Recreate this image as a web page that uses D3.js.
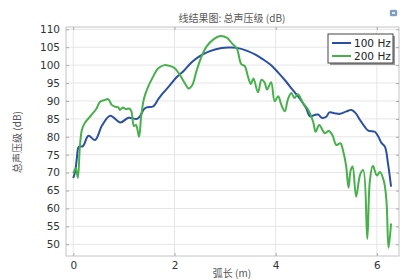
<!DOCTYPE html>
<html>
<head>
<meta charset="utf-8">
<script src="https://cdn.jsdelivr.net/npm/d3@7"></script>
<style>
body { margin: 0; background: #fff; }
svg text { font-family: "DejaVu Sans", sans-serif; }
.cjk { font-family: "Noto Sans CJK SC", sans-serif; }
</style>
</head>
<body>
<script>
// values
var seriesNames = ['100 Hz', '200 Hz']
var xTicks = [0, 2, 4, 6]
var yTicks = [50, 55, 60, 65, 70, 75, 80, 85, 90, 95, 100, 105, 110]

var blueX = [0, 0.04, 0.07, 0.11, 0.19, 0.30, 0.43, 0.57, 0.73, 0.93, 1.09, 1.26, 1.33, 1.39, 1.45, 1.58, 1.68, 1.78, 1.91, 2.04,
  2.17, 2.34, 2.50, 2.70, 2.93, 3.13, 3.30, 3.45, 3.60, 3.75, 3.90, 4.05, 4.20, 4.34, 4.47, 4.60, 4.68, 4.77, 4.84, 4.91,
  5.00, 5.06, 5.16, 5.27, 5.40, 5.50, 5.58, 5.67, 5.75, 5.83, 5.96, 6.03, 6.09, 6.16, 6.22, 6.28]
var blueY = [68.5, 70.5, 74.0, 77.2, 77.4, 80.3, 79.1, 83.2, 85.9, 84.0, 85.3, 85.0, 86.0, 87.6, 88.2, 88.5, 90.5, 92.3, 94.4, 96.6,
  98.2, 100.8, 102.5, 103.9, 104.8, 104.9, 104.6, 103.9, 102.9, 101.6, 100.1, 97.9, 95.5, 93.0, 90.8, 88.0, 85.7, 86.1, 86.2, 85.3,
  85.6, 86.8, 86.6, 86.4, 87.1, 87.5, 86.6, 84.6, 83.0, 81.7, 81.4, 80.0, 78.3, 77.2, 72.5, 66.1]

var greenX = [0, 0.05, 0.09, 0.13, 0.17, 0.23, 0.36, 0.46, 0.53, 0.63, 0.69, 0.76, 0.82, 0.89, 0.92, 0.98, 1.04, 1.11, 1.15, 1.20,
  1.24, 1.30, 1.34, 1.40, 1.48, 1.56, 1.68, 1.80, 1.90, 2.00, 2.11, 2.21, 2.28, 2.35, 2.44, 2.54, 2.64, 2.77, 2.90, 3.04,
  3.14, 3.23, 3.32, 3.39, 3.45, 3.51, 3.56, 3.65, 3.72, 3.78, 3.83, 3.91, 3.98, 4.05, 4.11, 4.18, 4.24, 4.31, 4.37, 4.44,
  4.54, 4.64, 4.74, 4.79, 4.86, 4.97, 5.05, 5.12, 5.20, 5.28, 5.34, 5.39, 5.44, 5.48, 5.52, 5.59, 5.67, 5.73, 5.81, 5.86,
  5.92, 6.00, 6.06, 6.14, 6.19, 6.23, 6.28]
var greenY = [69.8, 71.2, 68.6, 77.2, 81.9, 83.9, 86.1, 87.9, 89.8, 90.3, 90.5, 88.9, 88.4, 88.2, 87.5, 88.2, 87.7, 87.9, 87.0, 83.0,
  83.3, 80.0, 85.5, 90.8, 94.0, 96.3, 99.1, 100.0, 99.8, 99.2, 97.2, 94.8, 93.5, 94.4, 98.6, 102.6, 105.3, 107.2, 108.1, 107.6,
  106.0, 104.7, 100.3, 99.7, 96.9, 94.7, 96.3, 92.4, 95.9, 95.2, 93.2, 95.2, 89.9, 91.3, 89.0, 87.1, 90.4, 92.2, 90.8, 91.9,
  89.4, 87.6, 84.2, 81.4, 83.3, 81.0, 81.6, 80.5, 77.7, 78.2, 75.6, 72.1, 65.8, 70.5, 71.7, 63.3, 69.5, 70.7, 51.5, 67.5,
  71.9, 69.2, 70.2, 67.5, 61.9, 49.0, 55.8]

var colors = ['#2b4fa3', '#46b14a']

var width = 404, height = 280
var pLeft = 66, pRight = 399, pTop = 27, pBottom = 256

var svg = d3.select('body').append('svg')
  .attr('width', width)
  .attr('height', height)

var x = d3.scaleLinear().domain([-0.144, 6.437]).range([pLeft, pRight])
var y = d3.scaleLinear().domain([46.73, 110.64]).range([pBottom, pTop])

// grid
svg.append('g').selectAll('line')
  .data(xTicks).enter().append('line')
  .attr('x1', d => x(d)).attr('x2', d => x(d))
  .attr('y1', pTop).attr('y2', pBottom)
  .attr('stroke', '#e6e6e6').attr('stroke-width', 1)
svg.append('g').selectAll('line')
  .data(yTicks).enter().append('line')
  .attr('x1', pLeft).attr('x2', pRight)
  .attr('y1', d => y(d)).attr('y2', d => y(d))
  .attr('stroke', '#e6e6e6').attr('stroke-width', 1)

// frame
svg.append('rect')
  .attr('x', pLeft).attr('y', pTop)
  .attr('width', pRight - pLeft).attr('height', pBottom - pTop)
  .attr('fill', 'none').attr('stroke', '#c4c4c4').attr('stroke-width', 1)

// axes (inward ticks)
function styleAxis(g) {
  g.select('.domain').remove()
  g.selectAll('.tick line').attr('stroke', '#aaa')
  g.selectAll('.tick text').attr('fill', '#333').style('font-size', '10.5px')
}
svg.append('g').attr('transform', 'translate(0,' + pBottom + ')')
  .call(d3.axisBottom(x).tickValues(xTicks).tickSizeInner(-3).tickPadding(6).tickFormat(d3.format('d')))
  .call(styleAxis)
svg.append('g').attr('transform', 'translate(' + pLeft + ',0)')
  .call(d3.axisLeft(y).tickValues(yTicks).tickSizeInner(-3).tickPadding(6).tickFormat(d3.format('d')))
  .call(styleAxis)
svg.append('g').attr('transform', 'translate(0,' + pTop + ')')
  .call(d3.axisTop(x).tickValues(xTicks).tickSizeInner(-3).tickFormat(''))
  .call(styleAxis)
svg.append('g').attr('transform', 'translate(' + pRight + ',0)')
  .call(d3.axisRight(y).tickValues(yTicks).tickSizeInner(-3).tickFormat(''))
  .call(styleAxis)

// lines
var line = d3.line()
  .x(d => x(d[0]))
  .y(d => y(d[1]))
  .curve(d3.curveCatmullRom.alpha(0.5))

var series = [d3.zip(blueX, blueY), d3.zip(greenX, greenY)]
svg.append('g')
  .selectAll('path')
  .data(series).enter().append('path')
  .attr('d', line)
  .attr('fill', 'none')
  .attr('stroke', (d, i) => colors[i])
  .attr('stroke-width', 2)
  .attr('stroke-linejoin', 'round')

// title and labels
svg.append('text').attr('class', 'cjk')
  .attr('x', 232).attr('y', 22)
  .attr('text-anchor', 'middle')
  .attr('fill', '#555').style('font-size', '10px')
  .text('线结果图: 总声压级 (dB)')
svg.append('text').attr('class', 'cjk')
  .attr('x', 232).attr('y', 277)
  .attr('text-anchor', 'middle')
  .attr('fill', '#555').style('font-size', '10px')
  .text('弧长 (m)')
svg.append('text').attr('class', 'cjk')
  .attr('transform', 'translate(21,142)rotate(-90)')
  .attr('text-anchor', 'middle')
  .attr('fill', '#555').style('font-size', '10px')
  .text('总声压级 (dB)')

// small icon top right
svg.append('rect').attr('x', 390).attr('y', 10).attr('width', 7).attr('height', 6)
  .attr('fill', '#7b9cc4').attr('stroke', '#9aa').attr('stroke-width', 0.5).attr('rx', 1)
svg.append('rect').attr('x', 392).attr('y', 12).attr('width', 3).attr('height', 2)
  .attr('fill', '#dfe8f2')

// legend
var lg = svg.append('g').attr('transform', 'translate(328,34)')
lg.append('rect').attr('x', 2).attr('y', 2).attr('width', 65).attr('height', 29)
  .attr('fill', '#999')
lg.append('rect').attr('x', 0).attr('y', 0).attr('width', 65).attr('height', 29)
  .attr('fill', '#fff').attr('stroke', '#444').attr('stroke-width', 1)
var items = lg.selectAll('g.item').data(seriesNames).enter().append('g')
  .attr('transform', (d, i) => 'translate(0,' + (9 + i * 13) + ')')
items.append('line').attr('x1', 4).attr('x2', 23).attr('y1', 0).attr('y2', 0)
  .attr('stroke', (d, i) => colors[i]).attr('stroke-width', 2)
items.append('text').attr('x', 26).attr('y', 4)
  .attr('fill', '#222').style('font-size', '10.5px')
  .text(d => d)
</script>
</body>
</html>
